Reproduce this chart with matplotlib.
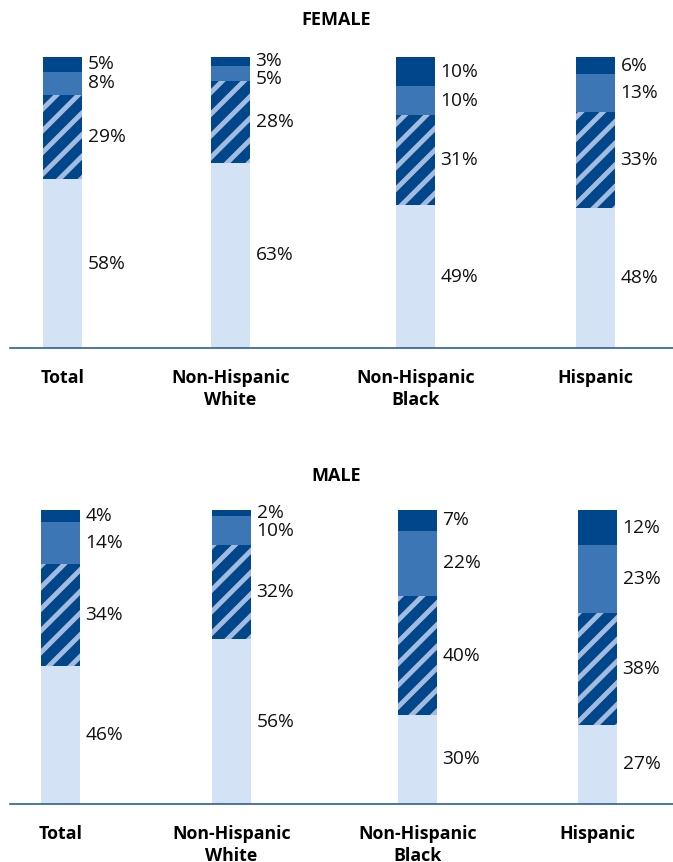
import numpy as np
import matplotlib.pyplot as plt

DPI = 130
S = 100 / DPI  # keeps text sizes as if drawn at 100 dpi

plt.rcParams['font.family'] = ['Open Sans', 'DejaVu Sans']
plt.rcParams['hatch.linewidth'] = 2.7

groups = ['Total', 'Non-Hispanic\nWhite', 'Non-Hispanic\nBlack', 'Hispanic']

# segments, bottom to top
female_light = [58, 63, 49, 48]
female_hatch = [29, 28, 31, 33]
female_mid = [8, 5, 10, 13]
female_dark = [5, 3, 10, 6]

male_light = [46, 56, 30, 27]
male_hatch = [34, 32, 40, 38]
male_mid = [14, 10, 22, 23]
male_dark = [4, 2, 7, 12]

LIGHT = '#D3E2F4'
HATCH_BG = '#00468B'
STRIPE = '#A3BBDF'
MID = '#3D76B4'
DARK = '#00468B'
AXIS = '#2F5F96'

W, H = 673, 862
fig = plt.figure(figsize=(W / DPI, H / DPI), dpi=DPI)

# bar centres in pixels from the left edge of the axes (layout only)
female_pos = [52.5, 220.5, 405.5, 585.5]
male_pos = [50.5, 221.5, 407.5, 587.5]


def panel(top_px, bottom_px, segs, pos, title, title_y):
    ax = fig.add_axes([10 / W, 1 - bottom_px / H, (W - 10) / W, (bottom_px - top_px) / H])
    x = np.array(pos)
    vals_all = np.array(segs, dtype=float)
    vals_all = vals_all / vals_all.sum(axis=0) * 100  # bars drawn to full height
    bottom = np.zeros(len(groups))
    styles = [(LIGHT, None), (HATCH_BG, '//'), (MID, None), (DARK, None)]
    centers = []
    for vals, (col, hatch) in zip(vals_all, styles):
        if hatch:
            ax.bar(x, vals, 39, bottom=bottom, color=col, edgecolor=STRIPE,
                   linewidth=0, hatch=hatch)
        else:
            ax.bar(x, vals, 39, bottom=bottom, color=col, linewidth=0)
        centers.append(bottom + vals / 2)
        bottom = bottom + vals

    # percentage labels; when two are too close the lower one moves down
    for i in range(len(groups)):
        ys = [c[i] for c in centers]
        for k in range(len(ys) - 2, -1, -1):
            if ys[k + 1] - ys[k] < 6.0:
                ys[k] = ys[k + 1] - 6.0
        for k in range(len(ys)):
            ax.annotate(f'{segs[k][i]}%', (x[i] + 19.5, ys[k]), xytext=(4 * S, 0),
                        textcoords='offset points', va='center', ha='left',
                        fontsize=13.8 * S, color='#111111', annotation_clip=False)

    ax.set_xlim(0, W - 10)
    ax.set_ylim(0, 100)
    ax.set_xticks(x)
    ax.set_xticklabels(groups, fontsize=12.8 * S, fontweight='bold', linespacing=1.3)
    ax.tick_params(axis='x', length=0, pad=15 * S)
    ax.set_yticks([])
    for s in ['top', 'right', 'left']:
        ax.spines[s].set_visible(False)
    ax.spines['bottom'].set_color(AXIS)
    ax.spines['bottom'].set_linewidth(1.2 * S)
    fig.text(0.5, 1 - title_y / H, title, ha='center', va='center',
             fontsize=13 * S, fontweight='bold')


female = [female_light, female_hatch, female_mid, female_dark]
male = [male_light, male_hatch, male_mid, male_dark]

panel(57, 348, female, female_pos, 'FEMALE', 20)
panel(510, 804, male, male_pos, 'MALE', 476)

fig.savefig('out.png', dpi=DPI)
